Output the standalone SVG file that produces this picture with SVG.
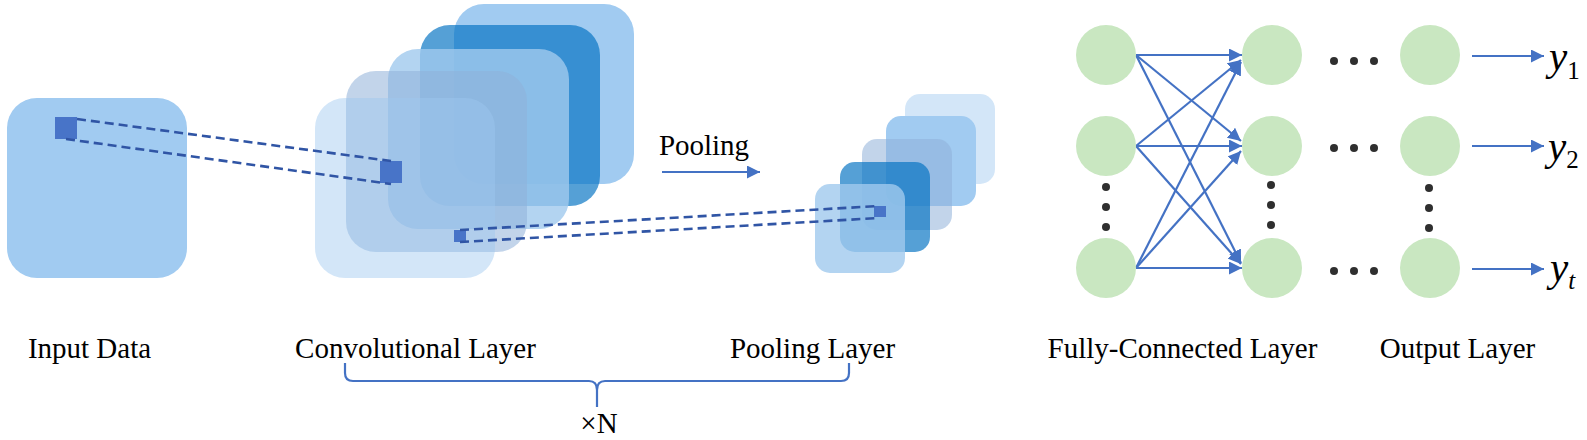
<svg xmlns="http://www.w3.org/2000/svg" width="1587" height="440" viewBox="0 0 1587 440">
<style>
.lbl{font-family:"Liberation Serif","Times New Roman",serif;font-size:29px;fill:#000}
.ylab{font-family:"Liberation Serif","Times New Roman",serif;fill:#000}
.b-back{fill:#a1cbf1}
.b-dark{fill:#0573c3;fill-opacity:0.68}
.b-med{fill:#a0c9ee;fill-opacity:0.8}
.b-gray{fill:#8fb0d8;fill-opacity:0.55}
.b-light{fill:#9ec8ef;fill-opacity:0.45}
.sq{fill:#4874c8}
.dash{stroke:#3055a5;stroke-width:2.6;stroke-dasharray:9 5;fill:none}
.arr{stroke:#4472c4;stroke-width:2.2;fill:none;marker-end:url(#ah)}
.node{fill:#c9e7c1}
.dot{fill:#2f2f2f}
.brace{stroke:#4472c4;stroke-width:2.2;fill:none}
</style>
<defs>
<marker id="ah" markerUnits="userSpaceOnUse" markerWidth="15" markerHeight="14" refX="13" refY="6.5" orient="auto">
<path d="M0,0 L13,6.5 L0,13 z" fill="#4472c4"/>
</marker>
</defs>

<g id="input-data">
<rect class="b-back" x="7" y="98" width="180" height="180" rx="30"/>
</g>

<g id="conv-layer">
<rect class="b-back" x="454" y="4" width="180" height="180" rx="30"/>
<rect class="b-dark" x="420" y="25" width="180" height="181" rx="30"/>
<rect class="b-med" x="388" y="49" width="181" height="180" rx="30"/>
<rect class="b-gray" x="346" y="71" width="181" height="181" rx="30"/>
<rect class="b-light" x="315" y="98" width="180" height="180" rx="30"/>
</g>

<g id="pooling-layer">
<rect class="b-light" x="905" y="94" width="90" height="90" rx="15"/>
<rect class="b-back" x="886" y="116" width="90" height="90" rx="15"/>
<rect class="b-gray" x="862" y="139" width="90" height="91" rx="15"/>
<rect class="b-dark" x="840" y="162" width="90" height="90" rx="15"/>
<rect class="b-med" x="815" y="184" width="90" height="89" rx="15"/>
</g>

<g id="kernels">
<rect class="sq" x="55" y="117" width="22" height="22"/>
<rect class="sq" x="380" y="161" width="22" height="22"/>
<rect class="sq" x="454" y="230" width="12" height="12"/>
<rect class="sq" x="874" y="206" width="12" height="11"/>
</g>

<g id="connectors">
<line class="dash" x1="77" y1="119" x2="391" y2="161"/>
<line class="dash" x1="66" y1="139" x2="391" y2="184"/>
<line class="dash" x1="460" y1="230" x2="879" y2="206"/>
<line class="dash" x1="460" y1="242" x2="879" y2="218"/>
<line class="arr" x1="662" y1="172" x2="760" y2="172"/>
<path class="brace" d="M345,363 L345,373 Q345,381 353,381 L589,381 Q597,381 597,390 L597,407 M849,363 L849,373 Q849,381 841,381 L605,381 Q597,381 597,390"/>
<line class="arr" x1="1136" y1="55" x2="1242" y2="55"/>
<line class="arr" x1="1136" y1="55" x2="1241" y2="141"/>
<line class="arr" x1="1136" y1="55" x2="1241" y2="263"/>
<line class="arr" x1="1136" y1="146" x2="1241" y2="60"/>
<line class="arr" x1="1136" y1="146" x2="1242" y2="146"/>
<line class="arr" x1="1136" y1="146" x2="1241" y2="264"/>
<line class="arr" x1="1136" y1="268" x2="1241" y2="62"/>
<line class="arr" x1="1136" y1="268" x2="1241" y2="151"/>
<line class="arr" x1="1136" y1="268" x2="1242" y2="268"/>
<line class="arr" x1="1472" y1="56" x2="1544" y2="56"/>
<line class="arr" x1="1472" y1="146" x2="1544" y2="146"/>
<line class="arr" x1="1472" y1="269" x2="1544" y2="269"/>
</g>

<g id="fc-layer">
<circle class="node" cx="1106" cy="55" r="30"/>
<circle class="node" cx="1106" cy="146" r="30"/>
<circle class="node" cx="1106" cy="268" r="30"/>
<circle class="dot" cx="1106" cy="187" r="4"/>
<circle class="dot" cx="1106" cy="207" r="4"/>
<circle class="dot" cx="1106" cy="227" r="4"/>
</g>
<g id="fc-layer-2">
<circle class="node" cx="1272" cy="55" r="30"/>
<circle class="node" cx="1272" cy="146" r="30"/>
<circle class="node" cx="1272" cy="268" r="30"/>
<circle class="dot" cx="1271" cy="185" r="4"/>
<circle class="dot" cx="1271" cy="205" r="4"/>
<circle class="dot" cx="1271" cy="225" r="4"/>
</g>
<g id="hidden-dots">
<circle class="dot" cx="1334" cy="61" r="4"/>
<circle class="dot" cx="1354" cy="61" r="4"/>
<circle class="dot" cx="1374" cy="61" r="4"/>
<circle class="dot" cx="1334" cy="148" r="4"/>
<circle class="dot" cx="1354" cy="148" r="4"/>
<circle class="dot" cx="1374" cy="148" r="4"/>
<circle class="dot" cx="1334" cy="271" r="4"/>
<circle class="dot" cx="1354" cy="271" r="4"/>
<circle class="dot" cx="1374" cy="271" r="4"/>
</g>
<g id="output-layer">
<circle class="node" cx="1430" cy="55" r="30"/>
<circle class="node" cx="1430" cy="146" r="30"/>
<circle class="node" cx="1430" cy="268" r="30"/>
<circle class="dot" cx="1429" cy="188" r="4"/>
<circle class="dot" cx="1429" cy="208" r="4"/>
<circle class="dot" cx="1429" cy="228" r="4"/>
</g>

<g id="labels">
<text class="lbl" x="704" y="155" text-anchor="middle">Pooling</text>
<text class="lbl" x="89.5" y="358" text-anchor="middle">Input Data</text>
<text class="lbl" x="415.5" y="358" text-anchor="middle">Convolutional Layer</text>
<text class="lbl" x="812.5" y="358" text-anchor="middle">Pooling Layer</text>
<text class="lbl" x="1182.5" y="358" text-anchor="middle">Fully-Connected Layer</text>
<text class="lbl" x="1457.5" y="358" text-anchor="middle">Output Layer</text>
<text class="lbl" x="599" y="433" text-anchor="middle">×N</text>
<text class="ylab" x="1549" y="70"><tspan font-style="italic" font-size="41">y</tspan><tspan font-size="25" dy="9">1</tspan></text>
<text class="ylab" x="1548" y="160"><tspan font-style="italic" font-size="41">y</tspan><tspan font-size="25" dy="8">2</tspan></text>
<text class="ylab" x="1550" y="281"><tspan font-style="italic" font-size="41">y</tspan><tspan font-style="italic" font-size="25" dy="8">t</tspan></text>
</g>
</svg>
